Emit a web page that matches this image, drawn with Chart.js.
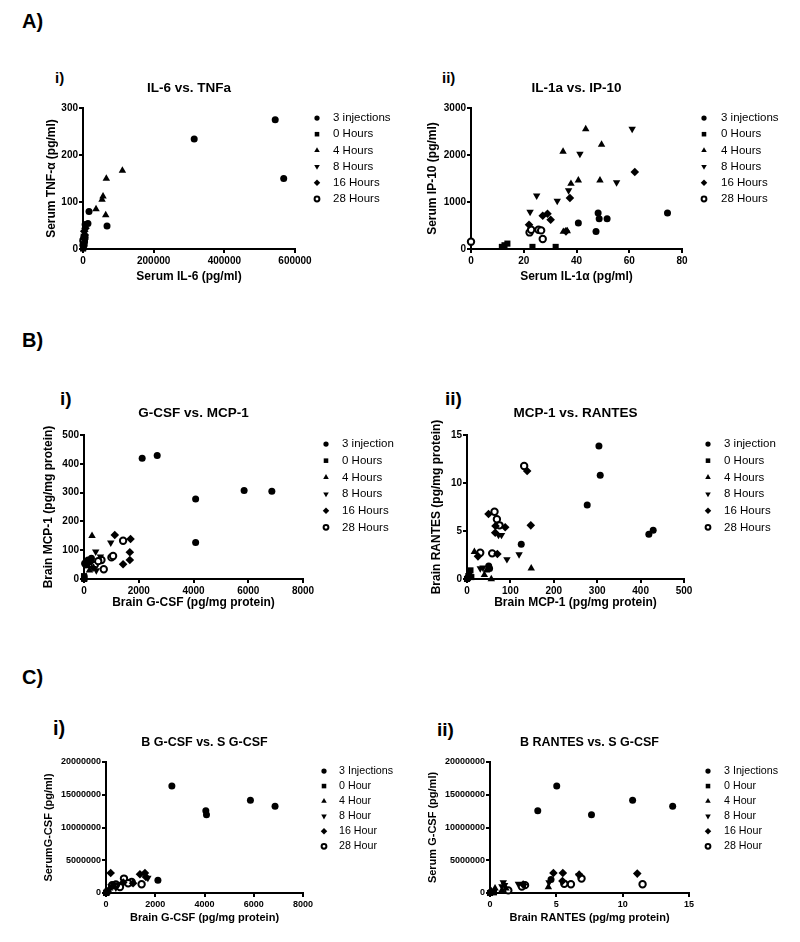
<!DOCTYPE html>
<html>
<head>
<meta charset="utf-8">
<script src="https://cdn.jsdelivr.net/npm/chart.js@4/dist/chart.umd.min.js"></script>
<style>
  body { margin: 0; background: #fff; width: 800px; height: 942px; position: relative; overflow: hidden;
         font-family: "Liberation Sans", Arial, sans-serif; }
  canvas { position: absolute; }
  .lab { position: absolute; font-weight: bold; line-height: 1; color: #000; }
</style>
</head>
<body>
<div class="lab" style="left:22px;top:11px;font-size:20px">A)</div>
<div class="lab" style="left:22px;top:330px;font-size:20px">B)</div>
<div class="lab" style="left:22px;top:667px;font-size:20px">C)</div>
<div class="lab" style="left:55px;top:70px;font-size:15px">i)</div>
<div class="lab" style="left:442px;top:70px;font-size:15px">ii)</div>
<div class="lab" style="left:60px;top:389px;font-size:19px">i)</div>
<div class="lab" style="left:445px;top:389px;font-size:19px">ii)</div>
<div class="lab" style="left:53px;top:718px;font-size:20px">i)</div>
<div class="lab" style="left:437px;top:720px;font-size:19px">ii)</div>

<canvas id="a1"></canvas>
<canvas id="a2"></canvas>
<canvas id="b1"></canvas>
<canvas id="b2"></canvas>
<canvas id="c1"></canvas>
<canvas id="c2"></canvas>

<script>
// legend labels (they differ a little between the rows of the figure)
const labelsA = ["3 injections", "0 Hours", "4 Hours", "8 Hours", "16 Hours", "28 Hours"];
const labelsB = ["3 injection", "0 Hours", "4 Hours", "8 Hours", "16 Hours", "28 Hours"];
const labelsC = ["3 Injections", "0 Hour", "4 Hour", "8 Hour", "16 Hour", "28 Hour"];

// A i) serum IL-6 (x) vs serum TNF-a (y)
const a1Inj = [[544000, 275], [314700, 234], [568000, 150], [68000, 49], [17000, 80], [14000, 54], [6000, 52]];
const a1H0 = [[300, 1], [600, 3], [900, 6], [500, 10]];
const a1H4 = [[111500, 167], [66000, 150], [56700, 112], [53900, 105], [36900, 85], [64300, 72]];
const a1H8 = [[2000, 12], [4500, 20], [3000, 28], [6000, 17]];
const a1H16 = [[3500, 38], [5000, 30], [7000, 44], [2500, 22]];
const a1H28 = [[1500, 8], [2500, 15], [4000, 25], [1200, 18]];

// A ii) serum IL-1a (x) vs serum IP-10 (y)
const a2Inj = [[74.5, 766], [40.7, 553], [51.6, 645], [48.2, 766], [48.6, 645], [47.4, 374]];
const a2H0 = [[11.7, 45], [12.7, 80], [13.8, 115], [23.3, 45], [32.1, 45]];
const a2H4 = [[43.5, 2553], [34.9, 2071], [49.5, 2220], [37.9, 1389], [40.7, 1460], [48.9, 1460], [35.0, 368], [36.5, 382]];
const a2H8 = [[61.1, 2553], [41.3, 2021], [55.2, 1418], [37.0, 1247], [24.9, 1134], [32.7, 1021], [22.4, 787]];
const a2H16 = [[62.1, 1638], [37.5, 1085], [27.2, 709], [29.0, 751], [30.2, 623], [22.0, 517], [36.0, 376]];
const a2H28 = [[0, 156], [22.2, 353], [22.8, 411], [25.6, 411], [26.6, 396], [27.2, 213]];

// B i) brain G-CSF (x) vs brain MCP-1 (y)
const b1Inj = [[2125, 419], [2674, 429], [4078, 278], [4078, 127], [6862, 305], [5849, 307], [26, 55], [147, 66], [271, 72], [200, 60]];
const b1H0 = [[0, 2], [0, 10], [20, 5], [10, 0]];
const b1H4 = [[293, 150], [150, 45], [350, 40], [200, 30]];
const b1H8 = [[978, 126], [428, 95], [330, 38], [450, 30], [600, 78]];
const b1H16 = [[1124, 153], [1700, 139], [1674, 93], [1674, 66], [1428, 51]];
const b1H28 = [[1428, 133], [1003, 75], [1062, 80], [637, 66], [722, 34], [392, 49], [61, 52], [520, 62]];

// B ii) brain MCP-1 (x) vs brain RANTES (y)
const b2Inj = [[304, 13.85], [307, 10.8], [277, 7.71], [419, 4.65], [429, 5.07], [125, 3.61], [50, 1.35], [52, 1.1]];
const b2H0 = [[0, 0], [3, 0.3], [5, 0.6], [8, 0.9], [2, 0.1], [10, 0.2]];
const b2H4 = [[17, 2.84], [40, 0.42], [56, 0], [148, 1.11], [45, 0.9]];
const b2H8 = [[72.6, 4.58], [79.5, 4.58], [92, 2.05], [120, 2.57], [30.6, 1.11], [36.8, 1.18]];
const b2H16 = [[49.6, 6.77], [65.7, 5.52], [65, 4.82], [88, 5.39], [147, 5.59], [138.6, 11.25], [25.3, 2.36], [70, 2.6]];
const b2H28 = [[63.4, 7.01], [68.9, 6.22], [74.9, 5.59], [131.7, 11.77], [30.5, 2.74], [58, 2.67]];

// C i) brain G-CSF (x) vs serum G-CSF (y)
const c1Inj = [[2675, 16340000], [4054, 12570000], [4081, 11960000], [5865, 14150000], [6865, 13230000], [2108, 1930000]];
const c1H0 = [[0, 0], [30, 100000], [60, 250000], [20, 50000]];
const c1H4 = [[100, 400000], [150, 700000], [250, 900000], [80, 300000]];
const c1H8 = [[200, 1000000], [300, 1200000], [500, 1300000], [1700, 2300000], [400, 800000]];
const c1H16 = [[190, 3050000], [1379, 2860000], [1581, 3050000], [1622, 2440000], [700, 1600000], [1100, 1500000]];
const c1H28 = [[1446, 1330000], [730, 2200000], [1042, 1680000], [568, 920000], [400, 1300000], [900, 1500000], [250, 1200000]];

// C ii) brain RANTES (x) vs serum G-CSF (y)
const c2Inj = [[5.03, 16340000], [3.6, 12570000], [7.65, 11960000], [10.75, 14150000], [13.77, 13230000], [4.6, 2050000]];
const c2H0 = [[0, 0], [0.1, 150000], [0.2, 200000], [0.3, 100000]];
const c2H4 = [[0.38, 700000], [0.1, 300000], [0.9, 400000], [4.4, 900000], [1.2, 700000]];
const c2H8 = [[1.0, 1600000], [1.1, 1200000], [2.14, 1400000], [4.45, 1600000], [6.7, 2700000], [0.9, 1000000]];
const c2H16 = [[4.78, 3050000], [5.49, 3050000], [11.1, 2960000], [6.72, 2800000], [5.46, 1830000], [2.5, 1300000]];
const c2H28 = [[6.1, 1330000], [6.9, 2200000], [11.5, 1330000], [1.38, 400000], [2.64, 1200000], [2.4, 1000000], [5.6, 1400000]];

const FONT = '"Liberation Sans", Arial, sans-serif';

// marker look per group, in legend order
const marks = [
  { pointStyle: "circle", pointRadius: 3.5, pointRotation: 0, backgroundColor: "#000", pointBorderWidth: 0 },
  { pointStyle: "rect", pointRadius: 4.3, pointRotation: 0, backgroundColor: "#000", pointBorderWidth: 0 },
  { pointStyle: "triangle", pointRadius: 4.3, pointRotation: 0, backgroundColor: "#000", pointBorderWidth: 0 },
  { pointStyle: "triangle", pointRadius: 4.3, pointRotation: 180, backgroundColor: "#000", pointBorderWidth: 0 },
  { pointStyle: "rectRot", pointRadius: 4.3, pointRotation: 0, backgroundColor: "#000", pointBorderWidth: 0 },
  { pointStyle: "circle", pointRadius: 3.2, pointRotation: 0, backgroundColor: "#fff", pointBorderWidth: 2 },
];

const fontsAB = { tick: 10, axis: 12, title: 13.5, legend: 11.5 };
const fontsC = { tick: 9, axis: 11, title: 12.5, legend: 10.7 };

// page geometry: canvas box [left, top, w, h], plot area [l, t, r, b]
const panels = [
  { id: "a1", box: [0, 60, 400, 235], area: [83, 108, 295, 249], yTitleX: 52, xTitleY: 277, titleY: 88,
    title: "IL-6 vs. TNFa", xTitle: "Serum IL-6 (pg/ml)", yTitle: "Serum TNF-\u03b1 (pg/ml)",
    xMax: 600000, xStep: 200000, yMax: 300, yStep: 100, fonts: fontsAB,
    legend: { mx: 317, tx: 333, y: 118, step: 16.2, labels: labelsA },
    sets: [a1Inj, a1H0, a1H4, a1H8, a1H16, a1H28] },
  { id: "a2", box: [400, 60, 400, 235], area: [471, 108, 682, 249], yTitleX: 433, xTitleY: 277, titleY: 88,
    title: "IL-1a vs. IP-10", xTitle: "Serum IL-1\u03b1 (pg/ml)", yTitle: "Serum IP-10 (pg/ml)",
    xMax: 80, xStep: 20, yMax: 3000, yStep: 1000, fonts: fontsAB,
    legend: { mx: 704, tx: 721, y: 118, step: 16.2, labels: labelsA },
    sets: [a2Inj, a2H0, a2H4, a2H8, a2H16, a2H28] },
  { id: "b1", box: [0, 385, 400, 235], area: [84, 435, 303, 579], yTitleX: 49, xTitleY: 603, titleY: 413,
    title: "G-CSF vs. MCP-1", xTitle: "Brain G-CSF (pg/mg protein)", yTitle: "Brain MCP-1 (pg/mg protein)",
    xMax: 8000, xStep: 2000, yMax: 500, yStep: 100, fonts: fontsAB,
    legend: { mx: 326, tx: 342, y: 444, step: 16.67, labels: labelsB },
    sets: [b1Inj, b1H0, b1H4, b1H8, b1H16, b1H28] },
  { id: "b2", box: [400, 385, 400, 235], area: [467, 435, 684, 579], yTitleX: 437, xTitleY: 603, titleY: 413,
    title: "MCP-1 vs. RANTES", xTitle: "Brain MCP-1 (pg/mg protein)", yTitle: "Brain RANTES (pg/mg protein)",
    xMax: 500, xStep: 100, yMax: 15, yStep: 5, fonts: fontsAB,
    legend: { mx: 708, tx: 724, y: 444, step: 16.67, labels: labelsB },
    sets: [b2Inj, b2H0, b2H4, b2H8, b2H16, b2H28] },
  { id: "c1", box: [0, 715, 400, 227], area: [106, 762, 303, 893], yTitleX: 49, xTitleY: 918, titleY: 743,
    title: "B G-CSF vs. S G-CSF", xTitle: "Brain G-CSF (pg/mg protein)", yTitle: "SerumG-CSF (pg/ml)",
    xMax: 8000, xStep: 2000, yMax: 20000000, yStep: 5000000, fonts: fontsC,
    legend: { mx: 324, tx: 339, y: 771, step: 15.07, labels: labelsC },
    sets: [c1Inj, c1H0, c1H4, c1H8, c1H16, c1H28] },
  { id: "c2", box: [400, 715, 400, 227], area: [490, 762, 689, 893], yTitleX: 433, xTitleY: 918, titleY: 743,
    title: "B RANTES vs. S G-CSF", xTitle: "Brain RANTES (pg/mg protein)", yTitle: "Serum G-CSF (pg/ml)",
    xMax: 15, xStep: 5, yMax: 20000000, yStep: 5000000, fonts: fontsC,
    legend: { mx: 708, tx: 724, y: 771, step: 15.07, labels: labelsC },
    sets: [c2Inj, c2H0, c2H4, c2H8, c2H16, c2H28] },
];

function drawMark(ctx, ds, x, y, k) {
  ctx.fillStyle = ds.backgroundColor;
  ctx.strokeStyle = "#000";
  ctx.lineWidth = ds.pointBorderWidth;
  const o = { pointStyle: ds.pointStyle, radius: ds.pointRadius * k, rotation: ds.pointRotation, borderWidth: ds.pointBorderWidth };
  if (Chart.helpers && Chart.helpers.drawPoint) {
    Chart.helpers.drawPoint(ctx, o, x, y);
    return;
  }
  // fallback if helpers are not exposed
  const r = o.radius;
  ctx.beginPath();
  if (o.pointStyle === "circle") ctx.arc(x, y, r, 0, Math.PI * 2);
  else if (o.pointStyle === "rect") ctx.rect(x - r * 0.707, y - r * 0.707, r * 1.414, r * 1.414);
  else if (o.pointStyle === "rectRot") { ctx.moveTo(x - r, y); ctx.lineTo(x, y - r); ctx.lineTo(x + r, y); ctx.lineTo(x, y + r); ctx.closePath(); }
  else {
    const s = o.rotation ? -1 : 1;
    ctx.moveTo(x, y - s * r); ctx.lineTo(x + 0.866 * r, y + s * r / 2); ctx.lineTo(x - 0.866 * r, y + s * r / 2); ctx.closePath();
  }
  ctx.fill();
  if (o.borderWidth > 0) ctx.stroke();
}

// title above the plot and the legend on its right
const decor = {
  id: "decor",
  afterDraw(chart, args, opts) {
    const ctx = chart.ctx;
    const a = chart.chartArea;
    ctx.save();
    ctx.fillStyle = "#000";
    ctx.textBaseline = "middle";
    ctx.textAlign = "center";
    ctx.font = "bold " + opts.titleSize + "px " + FONT;
    ctx.fillText(opts.title, (a.left + a.right) / 2, opts.titleY);
    chart.data.datasets.forEach((ds, i) => {
      const y = opts.ly + i * opts.step;
      drawMark(ctx, ds, opts.mx, y, 0.75);
      ctx.fillStyle = "#000";
      ctx.textAlign = "left";
      ctx.font = opts.legendSize + "px " + FONT;
      ctx.fillText(ds.label, opts.tx, y);
    });
    ctx.restore();
  },
};

Chart.defaults.font.family = FONT;
Chart.defaults.color = "#000";

function axis(p, horizontal) {
  const f = p.fonts;
  const lh = f.axis * 1.2;
  const [bl, bt, bw, bh] = p.box;
  const [l, t, r, b] = p.area;
  return {
    type: "linear",
    position: horizontal ? "bottom" : "left",
    min: 0,
    max: horizontal ? p.xMax : p.yMax,
    ticks: {
      stepSize: horizontal ? p.xStep : p.yStep,
      color: "#000",
      padding: horizontal ? 2 : 1,
      maxRotation: 0,
      autoSkip: false,
      font: { size: f.tick, weight: "bold" },
      callback: (v) => String(v),
    },
    grid: { drawOnChartArea: false, drawTicks: true, tickLength: 4, color: "#000", lineWidth: 2 },
    border: { display: true, color: "#000", width: 2 },
    title: {
      display: true,
      text: horizontal ? p.xTitle : p.yTitle,
      color: "#000",
      padding: 0,
      font: { size: f.axis, weight: "bold", lineHeight: 1.2 },
    },
    afterFit: (s) => {
      if (horizontal) s.height = p.xTitleY + lh / 2 - b;
      else s.width = l - (p.yTitleX - lh / 2);
    },
  };
}

for (const p of panels) {
  const [bl, bt, bw, bh] = p.box;
  const [l, t, r, b] = p.area;
  const lh = p.fonts.axis * 1.2;
  const cv = document.getElementById(p.id);
  cv.width = bw;
  cv.height = bh;
  cv.style.left = bl + "px";
  cv.style.top = bt + "px";

  const datasets = p.sets.map((pts, i) => ({
    label: p.legend.labels[i],
    data: pts.map((q) => ({ x: q[0], y: q[1] })),
    ...marks[i],
    borderColor: "#000",
    pointHoverRadius: marks[i].pointRadius,
    showLine: false,
    clip: false,
  }));

  new Chart(cv, {
    type: "scatter",
    data: { datasets: datasets },
    options: {
      responsive: false,
      animation: false,
      events: [],
      devicePixelRatio: 1,
      layout: {
        padding: {
          top: t - bt,
          right: bl + bw - r,
          left: p.yTitleX - lh / 2 - bl,
          bottom: bt + bh - (p.xTitleY + lh / 2),
        },
      },
      scales: { x: axis(p, true), y: axis(p, false) },
      plugins: {
        legend: { display: false },
        title: { display: false },
        tooltip: { enabled: false },
        decor: {
          title: p.title,
          titleSize: p.fonts.title,
          titleY: p.titleY - bt,
          legendSize: p.fonts.legend,
          mx: p.legend.mx - bl,
          tx: p.legend.tx - bl,
          ly: p.legend.y - bt,
          step: p.legend.step,
        },
      },
    },
    plugins: [decor],
  });
}
</script>
</body>
</html>
